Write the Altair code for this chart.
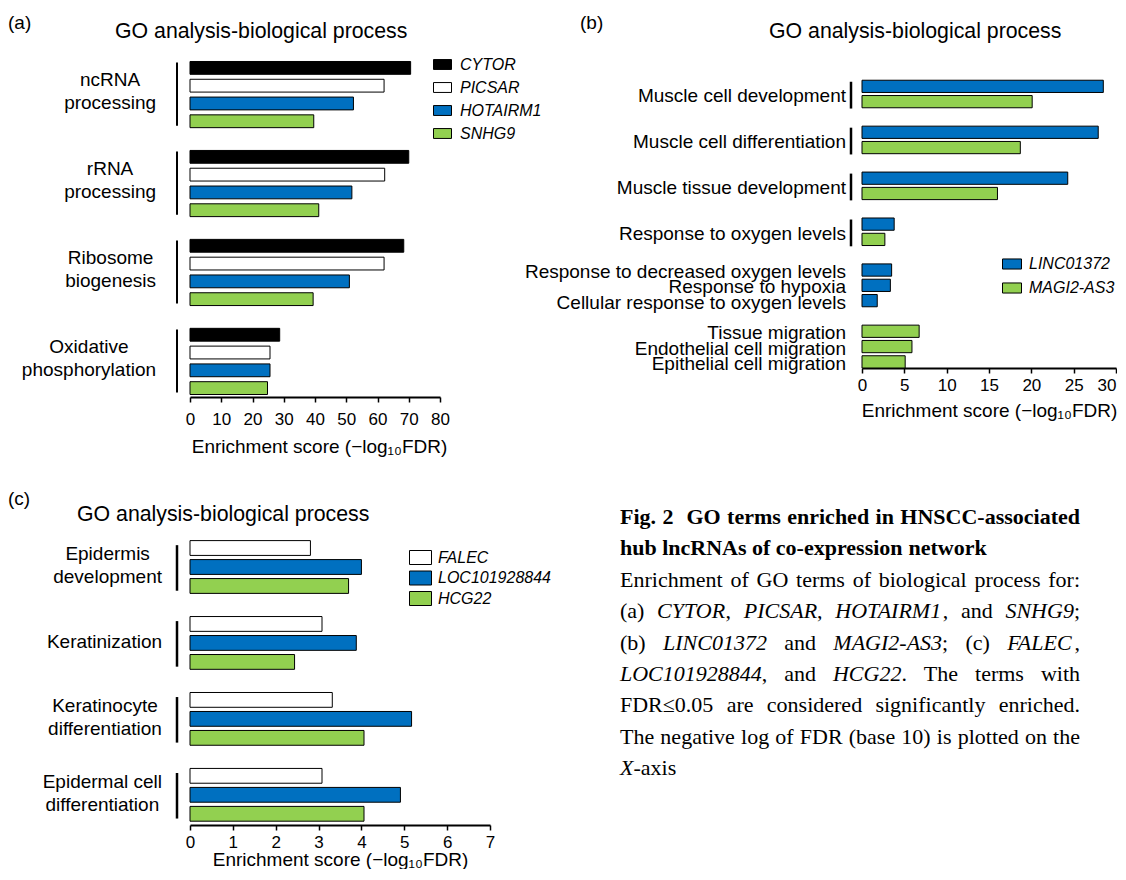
import altair as alt
import pandas as pd

# ---------------- data: panel (a) ----------------
A_TERMS = ["ncRNA\nprocessing", "rRNA\nprocessing", "Ribosome\nbiogenesis", "Oxidative\nphosphorylation"]
A_SERIES = ["CYTOR", "PICSAR", "HOTAIRM1", "SNHG9"]
A_CYTOR = [70.6, 70.0, 68.4, 28.7]
A_PICSAR = [62.1, 62.3, 62.1, 25.6]
A_HOTAIRM1 = [52.3, 51.8, 51.0, 25.6]
A_SNHG9 = [39.6, 41.2, 39.4, 24.8]
A_XTICKS = [0, 10, 20, 30, 40, 50, 60, 70, 80]

# ---------------- data: panel (b) ----------------
B_TERMS = ["Muscle cell development", "Muscle cell differentiation", "Muscle tissue development",
           "Response to oxygen levels", "Response to decreased oxygen levels", "Response to hypoxia",
           "Cellular response to oxygen levels", "Tissue migration", "Endothelial cell migration",
           "Epithelial cell migration"]
B_SERIES = ["LINC01372", "MAGI2-AS3"]
B_LINC01372 = [28.5, 27.9, 24.3, 3.8, 3.5, 3.35, 1.8, None, None, None]
B_MAGI2_AS3 = [20.1, 18.7, 16.0, 2.7, None, None, None, 6.75, 5.9, 5.1]
B_XTICKS = [0, 5, 10, 15, 20, 25, 30]

# ---------------- data: panel (c) ----------------
C_TERMS = ["Epidermis\ndevelopment", "Keratinization", "Keratinocyte\ndifferentiation",
           "Epidermal cell\ndifferentiation"]
C_SERIES = ["FALEC", "LOC101928844", "HCG22"]
C_FALEC = [2.81, 3.08, 3.32, 3.08]
C_LOC101928844 = [4.0, 3.88, 5.17, 4.91]
C_HCG22 = [3.7, 2.44, 4.06, 4.06]
C_XTICKS = [0, 1, 2, 3, 4, 5, 6, 7]

TITLE = "GO analysis-biological process"
X_TITLE = "Enrichment score (\u2212log\u2081\u2080FDR)"
LETTERS = ["(a)", "(b)", "(c)"]

CAPTION_HEAD = ["Fig. 2  GO terms enriched in HNSCC-associated",
                "hub lncRNAs of co-expression network"]
CAPTION_BODY = ["Enrichment of GO terms of biological process for:",
                "(a) *CYTOR*, *PICSAR*, *HOTAIRM1*, and *SNHG9*;",
                "(b) *LINC01372* and *MAGI2-AS3*; (c) *FALEC*,",
                "*LOC101928844*, and *HCG22*. The terms with",
                "FDR\u22640.05 are considered significantly enriched.",
                "The negative log of FDR (base 10) is plotted on the",
                "*X*-axis"]

# ---------------- styles ----------------
BLACK, WHITE, BLUE, GREEN = "#000000", "#ffffff", "#0070C0", "#92D050"
SANS, SERIF = "Liberation Sans", "Liberation Serif"
LABEL_FS, TITLE_FS, TICK_FS, AXT_FS, LEG_FS, LET_FS, CAP_FS = 19, 21.3, 17, 19, 16, 19, 22
LINE_H = 23


def _table(groups):
    t = {}
    for chars, w in groups:
        for ch in chars:
            t[ch] = w
    return t


ARIAL = _table([("ijl", 222), (" ftI", 278), ("()-r", 333), ("ckvxyzsJ", 500),
                ("abdeghnopqu0123456789L", 556), ("FTZ", 611), ("ABEKPSVXY", 667),
                ("CDHNRUw", 722), ("GOQ", 778), ("mM", 833), ("W", 944)])
TIMES = {
    "r": _table([(" ,.", 250), ("ijlt:;", 278), ("fr()-I", 333), ("sJ", 389), ("acez", 444),
                 ("bdghknopquvxy0123456789", 500), ("\u2264", 549), ("FPS", 556), ("ELTZ", 611),
                 ("BCR", 667), ("ADGHKNOQUVXYw", 722), ("m", 778), ("M", 889), ("W", 944)]),
    "i": _table([(" ,.", 250), ("ijl", 278), ("-I;", 333), ("s", 389), ("S0123456789a", 500),
                 ("LTY", 556), ("AEFPRX", 611), ("CN", 667), ("GHOU", 722), ("M", 833)]),
    "b": _table([(" .", 250), ("il", 278), ("-ft", 333), ("s", 389), ("cer", 444),
                 ("agoxy2", 500), ("bdhknpuS", 556), ("F", 611), ("ACNRw", 722),
                 ("GHO", 778), ("m", 833)]),
}


def width(text, table, fs):
    return sum(table.get(ch, 500) for ch in text) / 1000.0 * fs


def slot_layout(terms, series, cols):
    bars, groups = [], []
    slot, last_single = 0, None
    for i, term in enumerate(terms):
        present = [(s, c[i]) for s, c in zip(series, cols) if c[i] is not None]
        if len(present) == 1:
            if last_single is not None and last_single != present[0][0]:
                slot += 1
            last_single = present[0][0]
        start = slot
        for s, v in present:
            bars.append({"term": term, "series": s, "value": v, "slot": slot})
            slot += 1
        groups.append({"term": term, "start": start, "end": slot - 1, "n": len(present)})
        if len(present) > 1:
            slot += 1
    return pd.DataFrame(bars), groups


def panel(terms, series, cols, colors, cfg):
    bars, groups = slot_layout(terms, series, cols)
    nslots = int(bars["slot"].max()) + 1
    xmax = cfg["xticks"][-1]
    yscale = alt.Scale(domain=cfg["ydom"], range=cfg["yrange"], nice=False, zero=False)
    xscale = alt.Scale(domain=[cfg["xticks"][0], xmax], nice=False, zero=False)
    yaxis = alt.Axis(values=list(range(nslots)), labels=False, title=None, grid=False,
                     tickSize=5, tickWidth=2, tickColor=BLACK, domainColor=BLACK, domainWidth=2)
    label_align = "center"
    if cfg.get("flush_last"):
        label_align = {"condition": {"test": f"datum.value === {xmax}", "value": "right"},
                       "value": "center"}
    xaxis = alt.Axis(values=cfg["xticks"], format="d", title=X_TITLE, grid=False,
                     labelFont=SANS, labelFontSize=TICK_FS, labelColor=BLACK,
                     labelAlign=label_align,
                     labelPadding=cfg["lpad"], labelFlush=False, labelOverlap=False,
                     tickSize=5, tickWidth=1.5, tickColor=BLACK, domainColor=BLACK, domainWidth=2,
                     titleFont=SANS, titleFontSize=AXT_FS, titleFontWeight="normal",
                     titleColor=BLACK, titleX=cfg["tx"], titleY=cfg["ty"],
                     titleBaseline="alphabetic", titleAlign="center")
    half = cfg["half"]
    legend = alt.Legend(orient="none", legendX=cfg["legx"], legendY=cfg["legy"], title=None,
                        symbolType=cfg["sym"], symbolSize=cfg["symsize"],
                        symbolStrokeColor=BLACK, symbolStrokeWidth=1, symbolOpacity=1,
                        labelFont=SANS, labelFontSize=LEG_FS, labelFontStyle="italic",
                        labelColor=BLACK, labelOffset=cfg["loff"], rowPadding=cfg["rowpad"],
                        padding=0)
    rects = alt.Chart(bars).transform_calculate(
        lo=f"datum.slot - {half}", hi=f"datum.slot + {half}", zero="0"
    ).mark_rect(stroke=BLACK, strokeWidth=1).encode(
        x=alt.X("zero:Q", scale=xscale, axis=xaxis),
        x2="value:Q",
        y=alt.Y("lo:Q", scale=yscale, axis=yaxis),
        y2="hi:Q",
        fill=alt.Fill("series:N", scale=alt.Scale(domain=series, range=colors), legend=legend),
    )
    p0, p1 = cfg["bpad"]
    brackets = pd.DataFrame([{"b0": g["start"] - p0, "b1": g["end"] + p1}
                             for g in groups if g["n"] > 1])
    rules = alt.Chart(brackets).mark_rule(color=BLACK, strokeWidth=cfg["bw"]).encode(
        x=alt.value(cfg["bx"]), y=alt.Y("b0:Q", scale=yscale, axis=None), y2="b1:Q")
    layers = [rects, rules]
    for g in groups:
        row = pd.DataFrame([{"label": g["term"], "ymid": (g["start"] + g["end"]) / 2.0}])
        lines = g["term"].split("\n")
        if cfg["mode"] == "center":
            w = max(width(line, ARIAL, LABEL_FS) for line in lines)
            cx, align = cfg["redge"] - w / 2.0, "center"
        else:
            cx, align = cfg["redge"], "right"
        dy = -(len(lines) - 1) * LINE_H / 2.0 + cfg["ldy"]
        layers.append(alt.Chart(row).mark_text(
            align=align, baseline="middle", font=SANS, fontSize=LABEL_FS, lineBreak="\n",
            lineHeight=LINE_H, color=BLACK, dy=dy).encode(
            x=alt.value(cx), y=alt.Y("ymid:Q", scale=yscale, axis=None), text="label:N"))
    layers.append(alt.Chart(pd.DataFrame({"t": [TITLE]})).mark_text(
        align="left", baseline="alphabetic", font=SANS, fontSize=TITLE_FS, color=BLACK).encode(
        x=alt.value(cfg["titx"]), y=alt.value(cfg["tity"]), text="t:N"))
    layers.append(alt.Chart(pd.DataFrame({"t": [cfg["letter"]]})).mark_text(
        align="left", baseline="middle", font=SANS, fontSize=LET_FS, color=BLACK).encode(
        x=alt.value(cfg["letx"]), y=alt.value(cfg["lety"]), text="t:N"))
    return alt.layer(*layers).properties(width=cfg["w"], height=cfg["h"])


pa = panel(A_TERMS, A_SERIES, [A_CYTOR, A_PICSAR, A_HOTAIRM1, A_SNHG9],
           [BLACK, WHITE, BLUE, GREEN],
           dict(w=250, h=338, ydom=[-0.5, 18.5], yrange=[0, 338], xticks=A_XTICKS, half=0.36,
                lpad=9, tx=129, ty=55, legx=243, legy=-4,
                sym="M-1,-0.55L1,-0.55L1,0.55L-1,0.55Z", symsize=324, loff=8, rowpad=5,
                bpad=(0.3, 0.25), bw=2, bx=-13, mode="center", redge=-34, ldy=-3,
                titx=-75, tity=-21, letter=LETTERS[0], letx=-182, lety=-36))

pb = panel(B_TERMS, B_SERIES, [B_LINC01372, B_MAGI2_AS3], [BLUE, GREEN],
           dict(w=254, h=309, ydom=[-0.48, 18.4], yrange=[20, 309], xticks=B_XTICKS, half=0.4,
                lpad=4, tx=127, ty=48, legx=140, legy=195, flush_last=True,
                sym="M-1,-0.53L1,-0.53L1,0.53L-1,0.53Z", symsize=361, loff=7, rowpad=6,
                bpad=(0.3, 0.45), bw=2.5, bx=-11, mode="right", redge=-16, ldy=2,
                titx=-93, tity=-21, letter=LETTERS[1], letx=-282, lety=-36))

pc = panel(C_TERMS, C_SERIES, [C_FALEC, C_LOC101928844, C_HCG22], [WHITE, BLUE, GREEN],
           dict(w=300, h=288, ydom=[-0.58, 14.59], yrange=[0, 288], xticks=C_XTICKS, half=0.39,
                lpad=4, tx=150, ty=40, legx=220, legy=10,
                sym="M-1.1,-0.7L1.1,-0.7L1.1,0.7L-1.1,0.7Z", symsize=400, loff=7, rowpad=0.5,
                bpad=(0.15, 0.25), bw=2.5, bx=-13, mode="center", redge=-28, ldy=-1,
                titx=-113, tity=-16, letter=LETTERS[2], letx=-182, lety=-38))

# ---------------- caption (word layout, justified) ----------------
CAP_X, CAP_W, CAP_Y0, CAP_DY = -242, 460, -20, 31.4


def caption_rows():
    rows = []
    lines = [(l, True, i == 0) for i, l in enumerate(CAPTION_HEAD)]
    lines += [(l, False, i < len(CAPTION_BODY) - 1) for i, l in enumerate(CAPTION_BODY)]
    for li, (line, bold, justify) in enumerate(lines):
        words = []
        for w in line.split(" "):
            segs = []
            for k, p in enumerate(w.split("*")):
                if p:
                    segs.append((p, "b" if bold else ("i" if k % 2 == 1 else "r")))
            words.append(segs)
        widths = [sum(width(t, TIMES[s], CAP_FS) for t, s in w) for w in words]
        space = width(" ", TIMES["b" if bold else "r"], CAP_FS)
        gap = (CAP_W - sum(widths)) / (len(words) - 1) if justify else space
        x, y = CAP_X, CAP_Y0 + li * CAP_DY
        for w, wd in zip(words, widths):
            cx = x
            for t, s in w:
                rows.append({"text": t, "x": cx, "y": y, "style": s})
                cx += width(t, TIMES[s], CAP_FS)
            x += wd + gap
    return pd.DataFrame(rows)


cap_df = caption_rows()
cap_layers = []
for style, extra in [("r", {}), ("i", {"fontStyle": "italic"}), ("b", {"fontWeight": "bold"})]:
    cap_layers.append(alt.Chart(cap_df).transform_filter(alt.datum.style == style).mark_text(
        align="left", baseline="middle", font=SERIF, fontSize=CAP_FS, color=BLACK, **extra).encode(
        x=alt.X("x:Q", scale=None, axis=None), y=alt.Y("y:Q", scale=None, axis=None),
        text="text:N"))
cap = alt.layer(*cap_layers).properties(width=10, height=10)

chart = alt.concat(pa, pb, pc, cap, columns=2, spacing={"row": 140, "column": 372},
                   bounds="flush").resolve_scale(fill="independent").properties(
    padding={"left": 0, "top": 6, "right": 0, "bottom": 0},
    background="white").configure_view(stroke=None)

chart.save("out.html", embed_options={"renderer": "svg", "actions": False})
